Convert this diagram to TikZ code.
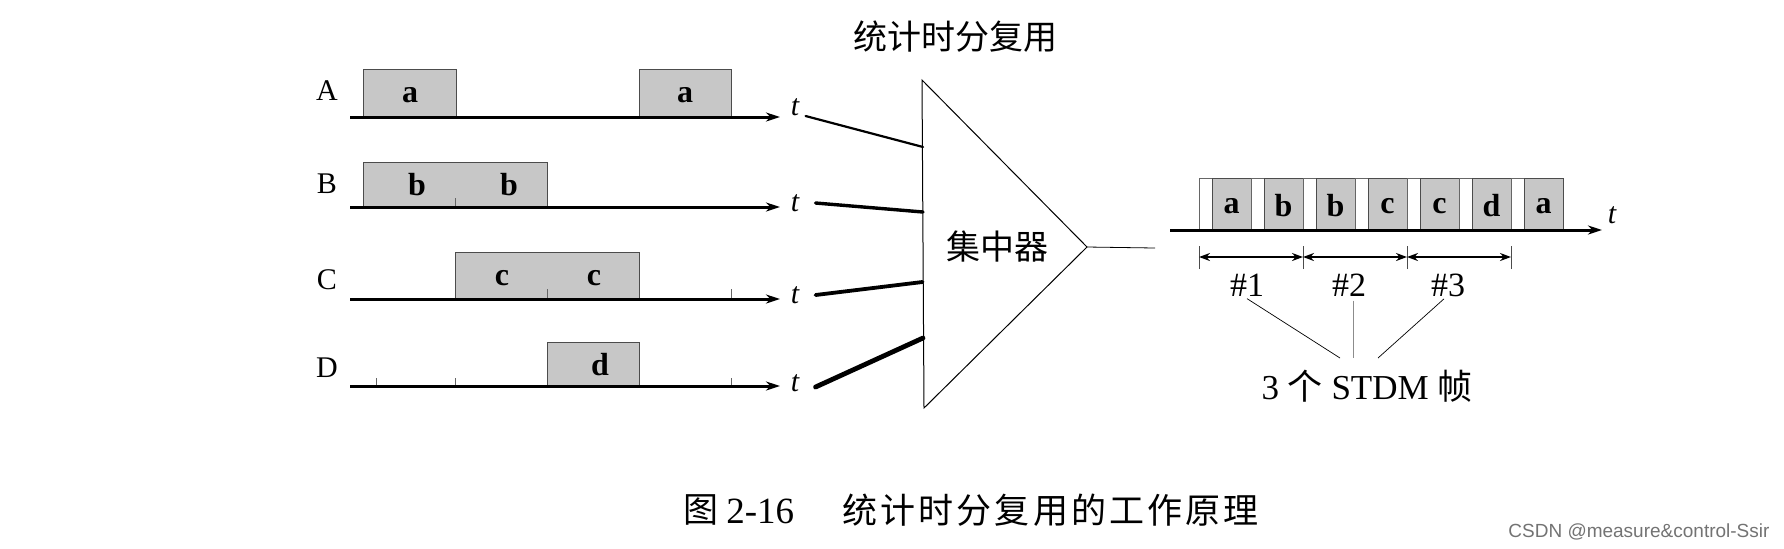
\documentclass[tikz,border=0pt]{standalone}
\usepackage{fontspec}
\setmainfont{Liberation Serif}
\newfontfamily\cjk{Noto Sans CJK SC}
\newfontfamily\cjkcap[LetterSpace=9]{Noto Sans CJK SC}
\newfontfamily\wmfont{Liberation Sans}
\usetikzlibrary{arrows.meta}
\tikzset{
  axisline/.style={line width=1.5pt,-{Stealth[length=7pt,width=4.5pt]}},
  pkt/.style={draw=black!70,line width=0.4pt,fill=black!22},
  slotframe/.style={draw=black!60,line width=0.4pt},
  pktlab/.style={font=\fontsize{16}{16}\selectfont\bfseries,inner sep=0pt},
  tlab/.style={font=\fontsize{15}{15}\selectfont\itshape,inner sep=0pt},
  rowlab/.style={font=\fontsize{15}{15}\selectfont,inner sep=0pt},
  cjktext/.style={font=\cjk\fontsize{17}{17}\selectfont,inner sep=0pt},
  captext/.style={font=\cjkcap\fontsize{17.5}{17.5}\selectfont,inner sep=0pt,anchor=west},
  numlab/.style={font=\fontsize{17}{17}\selectfont,inner sep=0pt},
  tick/.style={line width=0.3pt,draw=black!60},
  feed/.style={line cap=round},
  frameline/.style={line width=0.3pt,draw=black!70},
  framearrow/.style={line width=1.1pt,{Stealth[length=5.5pt,width=4pt]}-{Stealth[length=5.5pt,width=4pt]}},
  pointer/.style={line width=0.35pt},
}
\begin{document}
\begin{tikzpicture}[x=0.5pt,y=-0.5pt]
\useasboundingbox (0,0) rectangle (1784,548);

% title
\node[cjktext] (title) at (955,37) {统计时分复用};

% row labels
\node[rowlab] (LA) at (327,91) {A};
\node[rowlab] (LB) at (327,184) {B};
\node[rowlab] (LC) at (327,280) {C};
\node[rowlab] (LD) at (327,368) {D};

% packets row A
\draw[pkt] (363,69) rectangle (456,117); \node[pktlab] (pa1) at (410,95) {a};
\draw[pkt] (639,69) rectangle (731,117); \node[pktlab] (pa2) at (685,95) {a};
% row B
\draw[pkt] (363,162) rectangle (547,207);
\node[pktlab] (pb1) at (417,185) {b};
\node[pktlab] (pb2) at (509,185) {b};
\draw[tick] (455,198) -- (455,207);
% row C
\draw[pkt] (455,252) rectangle (639,299);
\node[pktlab] (pc1) at (502,278) {c};
\node[pktlab] (pc2) at (594,278) {c};
\draw[tick] (547,289) -- (547,299);
\draw[tick] (731,289) -- (731,299);
% row D
\draw[pkt] (547,342) rectangle (639,386);
\node[pktlab] (pd1) at (600,365) {d};
\draw[tick] (376,378) -- (376,386);
\draw[tick] (455,378) -- (455,386);
\draw[tick] (731,378) -- (731,386);

% axes
\draw[axisline] (350,117) -- (780,117);
\draw[axisline] (350,207) -- (780,207);
\draw[axisline] (350,299) -- (780,299);
\draw[axisline] (350,386) -- (780,386);

% t labels
\node[tlab] (tA) at (795,107) {t};
\node[tlab] (tB) at (795,203) {t};
\node[tlab] (tC) at (795,295) {t};
\node[tlab] (tD) at (795,383) {t};

% concentrator
\coordinate (triTop) at (922,80);
\coordinate (triBot) at (924,408);
\coordinate (apex) at (1087,247);
\draw[line width=0.5pt,line join=miter] (triTop) -- (apex) -- (triBot) -- cycle;
\node[cjktext] (conc) at (997,247) {集中器};

\coordinate (inA) at (923,147);
\coordinate (inB) at (923,212);
\coordinate (inC) at (922.5,282);
\coordinate (inD) at (923,338);
\draw[feed,line width=1.1pt] ([xshift=3pt,yshift=-4.5pt]tA.east) -- (inA);
\draw[feed,line width=1.7pt] ([xshift=8pt]tB.east) -- (inB);
\draw[feed,line width=1.9pt] ([xshift=8pt]tC.east) -- (inC);
\draw[feed,line width=2.4pt] ([xshift=8pt,yshift=-2pt]tD.east) -- (inD);

\coordinate (outEnd) at (1155,248);
\draw[line width=0.4pt] (apex) -- (outEnd);

% STDM frames
\foreach \i/\l in {0/a,1/b,2/b,3/c,4/c,5/d,6/a}{
  \pgfmathsetmacro{\s}{1199+52*\i}
  \draw[slotframe] (\s,178) rectangle (\s+52,230);
  \draw[pkt] (\s+13,178) rectangle (\s+52,230);
  \node[pktlab] (s\i) at (\s+32.5,206) {\l};
}
\draw[axisline] (1170,230) -- (1602,230);
\node[tlab] (tS) at (1612,215) {t};

\coordinate (f0) at (1199,257);
\coordinate (f1) at (1303,257);
\coordinate (f2) at (1407,257);
\coordinate (f3) at (1511,257);
\foreach \f in {f0,f1,f2,f3}{
  \draw[frameline] ([yshift=-6pt]\f) -- ([yshift=5.5pt]\f);
}
\draw[framearrow] (f0) -- (f1);
\draw[framearrow] (f1) -- (f2);
\draw[framearrow] (f2) -- (f3);

\node[numlab] (n1) at (1247,285) {\#1};
\node[numlab] (n2) at (1349,285) {\#2};
\node[numlab] (n3) at (1448,285) {\#3};

\node[font=\fontsize{17.5}{17.5}\selectfont,inner sep=0pt] (stdm) at (1367,386) {3 {\cjk 个} STDM {\cjk 帧}};
\coordinate (j1) at (1340,358);
\coordinate (j2) at (1353,358);
\coordinate (j3) at (1378,358);
\draw[pointer] ([yshift=-1pt]n1.south) -- (j1);
\draw[pointer,draw=black!45] ([xshift=2pt,yshift=-2pt]n2.south) -- (j2);
\draw[pointer] ([xshift=-2pt,yshift=-1pt]n3.south) -- (j3);

% caption
\node[captext] (capFig) at (683,510) {图};
\node[font=\fontsize{18.5}{18.5}\selectfont,inner sep=0pt,anchor=west] (capNum) at (726,511) {2-16};
\node[captext] (capText) at (842,510) {统计时分复用的工作原理};

% watermark
\node[font=\wmfont\fontsize{9.5}{9.5}\selectfont,text=black!55,inner sep=0pt,anchor=west] (wm) at (1508,532) {CSDN @measure\&control-Ssir};
\end{tikzpicture}
\end{document}
